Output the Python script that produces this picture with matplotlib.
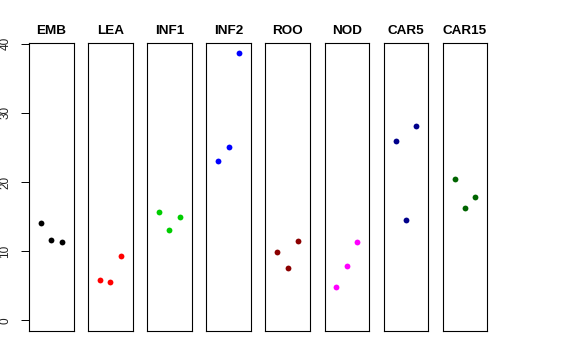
import matplotlib
matplotlib.use("Agg")
import matplotlib.pyplot as plt

plt.rcParams['font.family'] = ['Liberation Sans', 'DejaVu Sans']

# tissue groups, 3 replicates each
groups = ['EMB', 'LEA', 'INF1', 'INF2', 'ROO', 'NOD', 'CAR5', 'CAR15']
colors = ['black', 'red', '#00CD00', 'blue', '#8B0000', 'magenta', '#00008B', '#006400']
reps = [1, 2, 3]
values = [
    [14.1, 11.6, 11.3],
    [5.9, 5.6, 9.3],
    [15.7, 13.0, 14.9],
    [23.0, 25.0, 38.6],
    [9.9, 7.5, 11.5],
    [4.8, 7.9, 11.3],
    [26.0, 14.5, 28.1],
    [20.5, 16.2, 17.8],
]
yticks = [0, 10, 20, 30, 40]

fig = plt.figure(figsize=(5.76, 3.6), dpi=100)
W, H = 576, 360

ymax = max(max(v) for v in values)
ypad = 0.04 * ymax

for i, (name, col, vals) in enumerate(zip(groups, colors, values)):
    left = 29 + i * 59.1
    ax = fig.add_axes([left / W, 1 - 331 / H, 44.5 / W, (331 - 42.7) / H])
    ax.plot(reps, vals, 'o', color=col, markersize=4.2, markeredgewidth=0)
    ax.set_xlim(-0.16, 4.16)
    ax.set_ylim(-ypad, ymax + ypad)
    ax.set_xticks([])
    for s in ax.spines.values():
        s.set_color('black')
        s.set_linewidth(0.8)
    ax.set_title(name, fontsize=9.7, fontweight='bold', pad=6)
    if i == 0:
        ax.set_yticks(yticks)
        ax.set_yticklabels([str(t) for t in yticks], rotation=90, va='center', fontsize=8.5)
        ax.tick_params(axis='y', length=5.8, width=0.7, pad=7, labelcolor='#222222')
    else:
        ax.set_yticks([])

fig.savefig('out.png', dpi=100)
